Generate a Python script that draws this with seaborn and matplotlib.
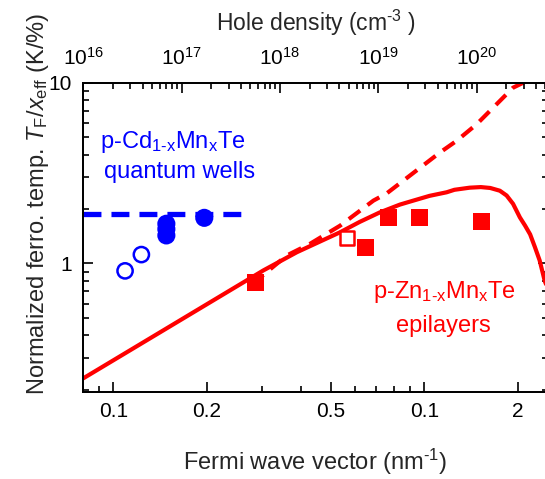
import numpy as np
import pandas as pd
import matplotlib
matplotlib.use('Agg')
import matplotlib.pyplot as plt
import seaborn as sns
from matplotlib.ticker import FixedLocator, FixedFormatter, LogLocator, NullFormatter

# p-Cd1-xMnxTe quantum wells (blue)
qw_open_k = [0.109, 0.123]
qw_open_t = [0.91, 1.12]
qw_full_k = [0.148, 0.148, 0.148, 0.196]
qw_full_t = [1.43, 1.55, 1.66, 1.79]
qw_dash_k = [0.08, 0.259]
qw_dash_t = [1.87, 1.87]

# p-Zn1-xMnxTe epilayers (red)
epi_full_k = [0.287, 0.645, 0.766, 0.964, 1.53]
epi_full_t = [0.785, 1.23, 1.79, 1.79, 1.71]
epi_open_k = [0.563]
epi_open_t = [1.39]

# model curves
theory_k = [0.08, 0.237, 0.3035, 0.389, 0.536, 0.62, 0.72, 0.835, 0.922, 1.04, 1.18,
            1.25, 1.40, 1.52, 1.63, 1.75, 1.84, 1.93, 2.03, 2.11, 2.19, 2.27, 2.35, 2.44, 2.5]
theory_t = [0.231, 0.709, 0.915, 1.154, 1.489, 1.70, 1.92, 2.12, 2.23, 2.37, 2.48,
            2.56, 2.63, 2.65, 2.62, 2.53, 2.38, 2.14, 1.80, 1.62, 1.45, 1.23, 1.04, 0.80, 0.72]
theory2_k = [0.28, 0.361, 0.429, 0.536, 0.686, 0.757, 1.123, 1.27, 1.474, 1.93, 2.08, 2.2]
theory2_t = [0.77, 1.107, 1.285, 1.62, 2.23, 2.445, 4.12, 4.78, 5.91, 9.42, 10.03, 11.0]

x_ticks = [0.1, 0.2, 0.5, 1, 2]
x_ticklabels = ['0.1', '0.2', '0.5', '0.1', '2']
y_ticks = [1, 10]
y_ticklabels = ['1', '10']

sns.set_theme(style='ticks')
plt.rcParams['font.family'] = ['Liberation Sans', 'DejaVu Sans']
plt.rcParams['mathtext.fontset'] = 'custom'
plt.rcParams['mathtext.rm'] = 'Liberation Sans'
plt.rcParams['mathtext.it'] = 'Liberation Sans:italic'
plt.rcParams['mathtext.default'] = 'regular'

fig = plt.figure(figsize=(5.45, 4.79), dpi=100)
ax = fig.add_axes([83.3 / 545, 87 / 479, 464.7 / 545, 309 / 479])

RED = '#ff0000'
BLUE = '#0000ff'

sns.lineplot(x=theory_k, y=theory_t, ax=ax, color=RED, lw=3, estimator=None, sort=False,
             solid_joinstyle='round')
sns.lineplot(x=theory2_k, y=theory2_t, ax=ax, color=RED, lw=3, estimator=None, sort=False,
             linestyle=(0, (3.4, 2.2)))
sns.lineplot(x=qw_dash_k, y=qw_dash_t, ax=ax, color=BLUE, lw=3.8, estimator=None, sort=False,
             linestyle=(0, (3.4, 1.9)))

sns.scatterplot(x=epi_full_k, y=epi_full_t, ax=ax, marker='s', s=150, color=RED,
                edgecolor='none', zorder=5)
sns.scatterplot(x=epi_open_k, y=epi_open_t, ax=ax, marker='s', s=110, facecolor='white',
                edgecolor=RED, linewidth=1.8, zorder=5)
sns.scatterplot(x=qw_full_k, y=qw_full_t, ax=ax, marker='o', s=170, color=BLUE,
                edgecolor='none', zorder=5)
sns.scatterplot(x=qw_open_k, y=qw_open_t, ax=ax, marker='o', s=120, facecolor='none',
                edgecolor=BLUE, linewidth=1.8, zorder=5)

ax.set_xscale('log')
ax.set_yscale('log')
ax.set_xlim(0.08, 2.5)
ax.set_ylim(0.194, 10)

ax.xaxis.set_major_locator(FixedLocator(x_ticks))
ax.xaxis.set_major_formatter(FixedFormatter(x_ticklabels))
ax.xaxis.set_minor_locator(LogLocator(base=10, subs=np.arange(2, 10) * 1.0))
ax.xaxis.set_minor_formatter(NullFormatter())
ax.yaxis.set_major_locator(FixedLocator(y_ticks))
ax.yaxis.set_major_formatter(FixedFormatter(y_ticklabels))
ax.yaxis.set_minor_locator(LogLocator(base=10, subs=np.arange(2, 10) * 1.0))
ax.yaxis.set_minor_formatter(NullFormatter())

ax.tick_params(which='both', direction='in', top=False, right=True, width=1.2, colors='black')
ax.tick_params(which='major', length=7, labelsize=15, pad=7)
ax.tick_params(which='minor', length=4.5)
ax.tick_params(axis='y', which='major', pad=8)
for s in ax.spines.values():
    s.set_linewidth(1.3)
    s.set_color('black')

ax.set_xlabel('Fermi wave vector (nm$^{\\text{-}1}$)', fontsize=17, labelpad=19)
ax.set_ylabel('Normalized ferro. temp. $\\mathit{T}_{F}/\\mathit{x}_{eff}$ (K/%)', fontsize=17)
ax.yaxis.set_label_coords(-0.07, 0.61)

# top axis: hole density
ax2 = ax.twiny()
ax2.set_xscale('log')
ax2.set_xlim(1e16, 10 ** 20.725)
ax2.xaxis.set_minor_locator(LogLocator(base=10, subs=np.arange(2, 10) * 1.0))
ax2.xaxis.set_minor_formatter(NullFormatter())
ax2.tick_params(which='both', direction='in', width=1.2, colors='black')
ax2.tick_params(which='major', length=7, labelsize=15, pad=10)
ax2.tick_params(which='minor', length=4.5)
ax2.set_xlabel('Hole density (cm$^{\\text{-}3}$ )', fontsize=16.5, labelpad=12)
for s in ax2.spines.values():
    s.set_linewidth(1.3)
    s.set_color('black')

ax.text(0.193, 0.809, 'p-Cd$_{1\\text{-}x}$Mn$_{x}$Te', transform=ax.transAxes,
        color=BLUE, fontsize=17, ha='center', va='center')
ax.text(0.208, 0.712, 'quantum wells', transform=ax.transAxes,
        color=BLUE, fontsize=17, ha='center', va='center')
ax.text(0.778, 0.324, 'p-Zn$_{1\\text{-}x}$Mn$_{x}$Te', transform=ax.transAxes,
        color=RED, fontsize=17, ha='center', va='center')
ax.text(0.774, 0.214, 'epilayers', transform=ax.transAxes,
        color=RED, fontsize=17, ha='center', va='center')

fig.savefig('out.png', dpi=100)
